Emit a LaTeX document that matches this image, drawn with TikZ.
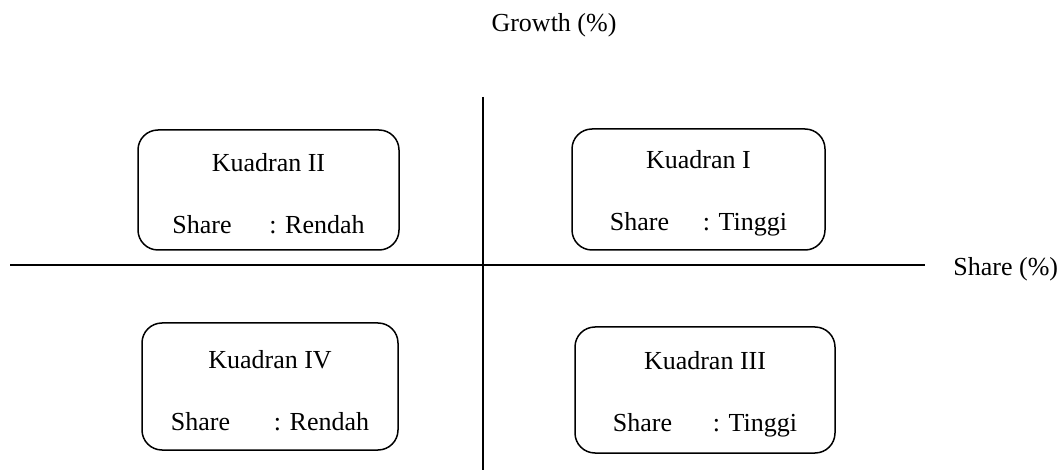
\documentclass[tikz,border=0pt]{standalone}
\usepackage{fontspec}
\setmainfont{Liberation Serif}
\begin{document}
\begin{tikzpicture}
    [
        x=0.5pt, y=-0.5pt,
        line width=0.75pt,
        every node/.style={font=\fontsize{13}{15}\selectfont},
        quadrant/.style={draw, rounded corners=10pt, inner sep=0pt},
        quadtext/.style={align=center, inner sep=0pt, yshift=-2pt},
    ]
    \useasboundingbox (0,0) rectangle (1061,470);
    % axes
    \coordinate (left) at (10,265);
    \coordinate (right) at (925,265);
    \coordinate (top) at (483,97);
    \coordinate (bottom) at (483,470);
    \draw (left) -- (right);
    \draw (top) -- (bottom);
    \node (growth) at (554,25) {Growth (\%)};
    \node (share) [anchor=west] at (946,269) {Share (\%)};
    % quadrants
    \node (q2) [quadrant, minimum width=130.5pt, minimum height=60pt] at (268.5,190) {};
    \node (q2text) [quadtext] at (q2.center)
        {Kuadran II\\[16pt]\makebox[48.5pt][l]{Share}: Rendah};
    \node (q1) [quadrant, minimum width=126.5pt, minimum height=60.5pt] at (698.5,189.5) {};
    \node (q1text) [quadtext] at (q1.center)
        {Kuadran I\\[16pt]\makebox[46.5pt][l]{Share}: Tinggi};
    \node (q4) [quadrant, minimum width=128pt, minimum height=63.5pt] at (270,386.5) {};
    \node (q4text) [quadtext] at (q4.center)
        {Kuadran IV\\[16pt]\makebox[51.5pt][l]{Share}: Rendah};
    \node (q3) [quadrant, minimum width=130pt, minimum height=63pt] at (705,390) {};
    \node (q3text) [quadtext] at (q3.center)
        {Kuadran III\\[16pt]\makebox[50pt][l]{Share}: Tinggi};
\end{tikzpicture}
\end{document}
